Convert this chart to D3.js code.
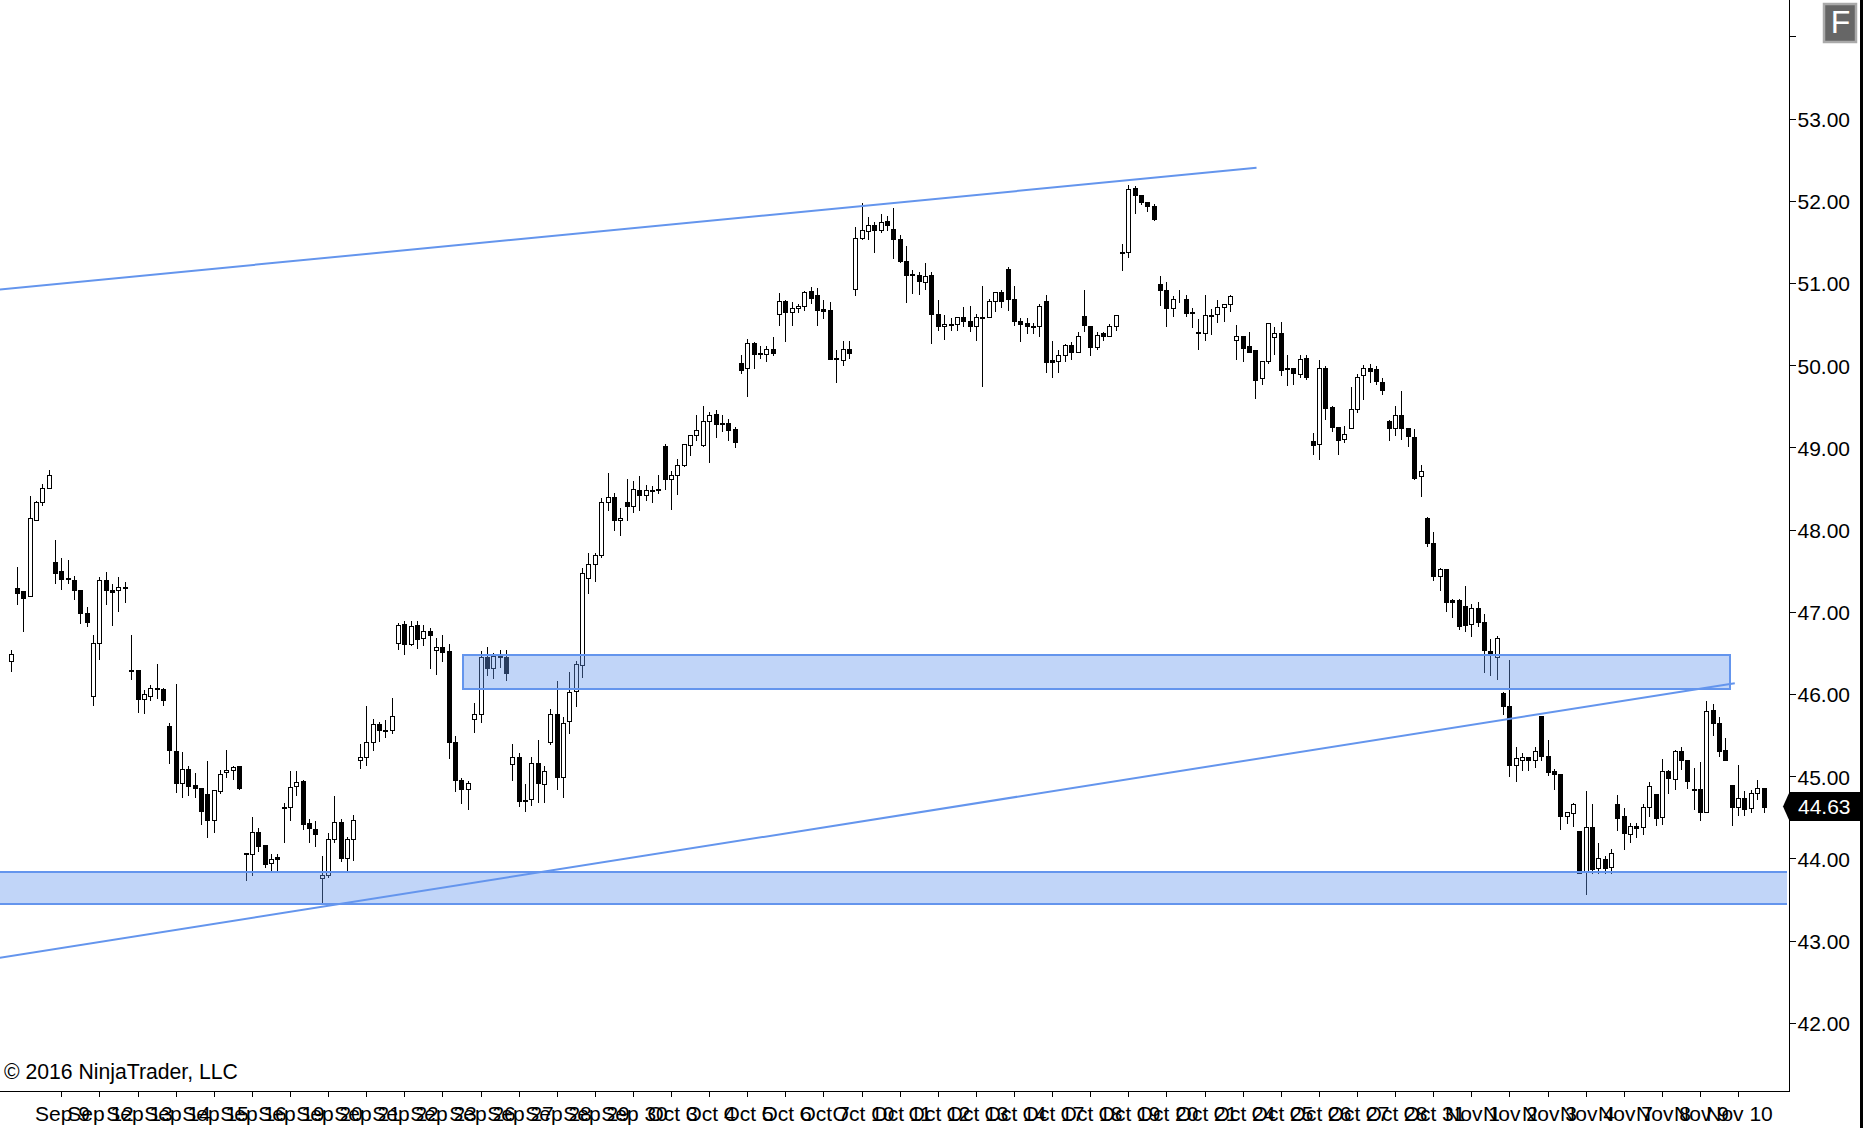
<!DOCTYPE html>
<html><head><meta charset="utf-8">
<script src="https://cdn.jsdelivr.net/npm/d3@7/dist/d3.min.js"></script>
<style>html,body{margin:0;padding:0;background:#fff;overflow:hidden}svg{display:block}text{font-family:"Liberation Sans",Arial,sans-serif}</style>
</head><body><svg id="c" width="1863" height="1128"></svg>
<script>
const opens=[46.40,47.29,47.25,47.19,48.12,48.34,48.51,47.61,47.49,47.41,
47.39,47.26,46.99,45.97,46.62,47.39,47.26,47.27,47.30,46.29,
46.29,45.94,45.98,46.07,46.06,45.61,45.31,44.91,45.09,44.89,
44.85,44.78,44.46,44.82,45.05,45.07,45.12,44.06,44.05,44.32,
44.16,43.94,44.01,44.61,44.62,44.88,44.94,44.43,44.36,43.76,
43.80,44.23,44.44,44.00,44.23,45.20,45.23,45.42,45.63,45.56,
45.56,46.62,46.85,46.61,46.84,46.68,46.77,46.54,46.57,46.52,
45.42,44.95,44.84,45.69,45.75,46.45,46.32,46.46,46.45,45.15,
45.23,44.71,44.72,45.16,44.90,45.41,45.75,44.99,45.67,46.03,
46.35,47.41,47.58,47.69,48.34,48.40,48.11,48.33,48.28,48.48,
48.42,48.48,48.49,49.01,48.61,48.66,48.79,49.03,49.15,49.03,
49.32,49.40,49.29,49.29,49.22,50.03,49.96,50.27,50.15,50.14,
50.20,50.62,50.78,50.65,50.69,50.72,50.90,50.85,50.68,50.67,
50.09,50.06,50.19,50.93,51.55,51.63,51.71,51.64,51.75,51.65,
51.54,51.27,51.11,51.10,51.01,51.10,50.62,50.47,50.50,50.50,
50.59,50.54,50.48,50.57,50.59,50.78,50.89,51.17,50.81,50.54,
50.51,50.47,50.47,50.78,50.06,50.05,50.12,50.24,50.16,50.60,
50.48,50.22,50.39,50.36,50.48,51.36,51.38,52.15,52.07,51.98,
51.94,50.99,50.91,50.70,50.81,50.81,50.64,50.40,50.39,50.61,
50.62,50.71,50.74,50.30,50.35,50.23,50.18,49.84,50.05,50.34,
50.39,49.95,49.97,49.89,50.09,49.08,49.04,49.97,49.49,49.25,
49.10,49.24,49.46,49.88,49.97,49.95,49.80,49.32,49.24,49.39,
49.23,49.13,48.65,48.14,47.84,47.44,47.52,47.14,47.14,47.07,
46.85,47.05,46.88,46.52,46.45,46.01,45.85,45.14,45.20,45.23,
45.19,45.73,45.25,45.06,45.02,44.52,44.55,44.33,43.84,44.38,
43.88,43.99,43.89,44.66,44.51,44.30,44.39,44.38,44.62,44.78,
44.50,45.06,44.97,45.30,45.20,44.84,44.84,44.56,45.80,45.64,
45.32,44.89,44.62,44.73,44.61,44.80,44.85];
const highs=[46.55,47.56,47.26,48.42,48.36,48.57,48.74,47.88,47.67,47.64,
47.45,47.26,47.07,46.73,47.43,47.50,47.35,47.44,47.37,46.73,
46.29,46.06,46.12,46.37,46.08,45.66,46.13,45.30,45.14,45.05,
44.87,45.20,44.84,45.09,45.33,45.14,45.14,44.07,44.51,44.38,
44.16,44.06,44.06,44.69,45.07,45.08,44.96,44.49,44.46,44.04,
44.32,44.77,44.49,44.27,44.54,45.40,45.87,45.71,45.67,45.70,
45.96,46.88,46.90,46.90,46.90,46.85,46.81,46.69,46.73,46.62,
45.50,44.99,44.95,45.90,46.53,46.58,46.51,46.55,46.55,45.40,
45.29,44.91,45.24,45.45,45.14,45.83,46.17,45.73,46.28,46.41,
47.54,47.73,47.73,48.40,48.70,48.46,48.27,48.63,48.60,48.66,
48.55,48.54,48.68,49.05,48.72,48.87,49.04,49.15,49.40,49.51,
49.44,49.47,49.40,49.36,49.26,50.14,50.33,50.29,50.25,50.25,
50.35,50.89,50.80,50.78,50.75,50.91,50.96,50.95,50.81,50.78,
50.20,50.31,50.31,51.69,51.98,51.81,51.75,51.85,51.82,51.92,
51.59,51.46,51.17,51.15,51.26,51.15,50.80,50.62,50.59,50.59,
50.72,50.73,50.63,50.97,50.82,50.89,50.92,51.21,50.98,50.59,
50.58,50.53,50.76,50.87,50.31,50.20,50.27,50.29,50.41,50.92,
50.48,50.42,50.42,50.51,50.62,51.49,52.20,52.19,52.08,51.98,
51.97,51.10,51.02,50.85,50.92,50.86,50.71,50.57,50.87,50.70,
50.81,50.74,50.87,50.50,50.37,50.41,50.19,50.05,50.53,50.47,
50.54,50.13,49.97,50.14,50.13,49.19,50.08,50.00,49.52,49.25,
49.27,49.74,49.90,50.01,50.03,50.00,49.86,49.35,49.52,49.70,
49.25,49.24,48.80,48.17,47.98,47.54,47.52,47.17,47.17,47.33,
47.10,47.13,46.98,46.68,46.72,46.03,46.43,45.37,45.29,45.23,
45.37,45.74,45.45,45.10,45.02,44.58,44.68,44.33,44.83,44.67,
44.20,44.04,44.13,44.78,44.63,44.44,44.44,44.67,44.94,44.78,
45.22,45.09,45.33,45.37,45.20,45.11,45.18,45.93,45.89,45.73,
45.47,44.89,45.15,44.83,44.84,44.96,44.85];
const lows=[46.28,47.09,46.77,47.19,48.12,48.30,48.50,47.35,47.28,47.35,
47.15,46.86,46.83,45.87,46.43,47.09,46.84,47.01,47.12,46.18,
45.78,45.77,45.92,45.95,45.87,45.16,44.81,44.74,44.77,44.75,
44.42,44.26,44.32,44.80,44.99,44.96,44.84,43.74,43.80,44.09,
43.90,43.85,43.83,44.20,44.47,44.77,44.36,44.20,44.15,43.44,
43.77,44.20,43.97,43.86,43.98,45.10,45.13,45.32,45.43,45.48,
45.53,46.55,46.49,46.59,46.56,46.60,46.32,46.24,46.40,45.22,
44.82,44.67,44.60,45.54,45.66,46.23,46.19,46.33,46.17,44.95,
44.64,44.58,44.65,44.68,44.68,45.39,44.84,44.74,45.52,45.85,
46.20,47.23,47.37,47.66,48.24,48.00,47.93,48.12,48.21,48.24,
48.36,48.34,48.45,48.49,48.25,48.43,48.77,48.91,49.09,49.02,
48.82,49.13,49.20,49.09,49.00,49.90,49.63,49.97,50.09,50.05,
50.12,50.49,50.29,50.49,50.65,50.67,50.76,50.49,50.57,50.08,
49.79,50.00,50.09,50.85,51.54,51.53,51.37,51.62,51.64,51.30,
51.26,50.77,50.88,50.86,50.93,50.27,50.43,50.32,50.43,50.43,
50.47,50.41,50.31,49.75,50.58,50.66,50.71,50.67,50.49,50.29,
50.39,50.39,50.35,49.91,49.86,49.91,50.05,50.08,50.16,50.42,
50.12,50.20,50.30,50.35,50.43,51.16,51.31,51.85,51.96,51.87,
51.77,50.73,50.47,50.60,50.77,50.60,50.46,50.20,50.31,50.38,
50.52,50.54,50.66,50.07,50.05,50.16,49.60,49.77,50.03,50.13,
49.88,49.76,49.77,49.86,49.83,48.92,48.86,49.35,49.20,48.92,
49.07,49.23,49.43,49.59,49.79,49.77,49.65,49.09,49.15,49.10,
49.02,48.62,48.41,47.80,47.39,47.26,47.01,46.93,46.79,46.77,
46.71,46.82,46.27,46.23,46.18,45.75,45.00,44.94,45.08,45.08,
45.11,45.20,45.01,44.84,44.36,44.43,44.39,43.82,43.56,43.82,
43.82,43.82,43.82,44.35,44.11,44.20,44.26,44.30,44.51,44.40,
44.42,44.80,44.84,45.09,44.85,44.60,44.46,44.56,45.50,45.25,
45.19,44.40,44.53,44.53,44.56,44.72,44.56];
const closes=[46.49,47.23,47.17,48.14,48.34,48.51,48.66,47.47,47.40,47.40,
47.26,46.99,46.88,46.62,47.39,47.26,47.24,47.30,47.29,46.28,
45.94,46.00,46.07,46.06,45.92,45.32,44.92,45.09,44.88,44.85,
44.58,44.46,44.83,45.03,45.07,45.11,44.85,44.05,44.32,44.15,
43.93,43.99,43.99,44.63,44.87,44.93,44.42,44.37,44.29,43.80,
44.23,44.44,44.00,44.23,44.47,45.23,45.42,45.63,45.56,45.55,
45.73,46.84,46.61,46.82,46.67,46.76,46.72,46.57,46.51,45.42,
44.95,44.84,44.92,45.75,46.45,46.32,46.46,46.45,46.25,45.23,
44.70,44.70,45.16,44.91,45.06,45.75,44.99,45.65,46.02,46.36,
47.47,47.58,47.69,48.34,48.40,48.11,48.14,48.28,48.49,48.42,
48.48,48.47,48.48,48.61,48.66,48.78,49.04,49.15,49.21,49.32,
49.39,49.28,49.28,49.21,49.07,49.94,50.27,50.13,50.14,50.20,
50.15,50.78,50.65,50.69,50.72,50.89,50.82,50.67,50.66,50.08,
50.07,50.19,50.15,51.55,51.64,51.71,51.64,51.74,51.71,51.53,
51.27,51.10,51.10,51.02,51.09,50.62,50.48,50.50,50.49,50.59,
50.54,50.47,50.59,50.59,50.78,50.89,50.78,50.81,50.54,50.50,
50.48,50.46,50.72,50.04,50.04,50.12,50.24,50.16,50.36,50.49,
50.22,50.37,50.36,50.48,50.61,51.38,52.14,52.07,51.98,51.94,
51.78,50.91,50.70,50.81,50.80,50.63,50.63,50.39,50.61,50.60,
50.71,50.74,50.84,50.35,50.21,50.16,49.82,50.05,50.51,50.39,
49.94,49.97,49.90,50.08,49.86,49.03,49.97,49.48,49.25,49.09,
49.16,49.46,49.86,49.96,49.93,49.81,49.70,49.24,49.39,49.23,
49.14,48.63,48.71,47.84,47.43,47.52,47.12,47.12,46.83,46.84,
47.04,46.88,46.53,46.47,46.68,45.85,45.13,45.22,45.23,45.19,
45.31,45.25,45.05,45.02,44.52,44.56,44.66,43.82,44.38,43.87,
44.00,43.88,44.06,44.49,44.31,44.39,44.37,44.63,44.88,44.49,
45.06,44.98,45.31,45.19,44.94,44.83,44.56,45.79,45.64,45.31,
45.19,44.62,44.73,44.60,44.80,44.85,44.63];
const dateLabels=["Sep 9","Sep 12","Sep 13","Sep 14","Sep 15","Sep 16","Sep 19","Sep 20","Sep 21","Sep 22","Sep 23","Sep 26","Sep 27","Sep 28","Sep 29","Sep 30",
"Oct 3","Oct 4","Oct 5","Oct 6","Oct 7","Oct 10","Oct 11","Oct 12","Oct 13","Oct 14","Oct 17","Oct 18","Oct 19","Oct 20","Oct 21","Oct 24","Oct 25","Oct 26","Oct 27","Oct 28","Oct 31",
"Nov 1","Nov 2","Nov 3","Nov 4","Nov 7","Nov 8","Nov 9","Nov 10"];
const firstDateBar=8, barsPerDay=6;
const priceTicks=[42,43,44,45,46,47,48,49,50,51,52,53];
const topTick=54;
const lastPrice=44.63;
const copyright="\u00A9 2016 NinjaTrader, LLC";
const trendUpper=[[-1.78,50.92],[196.1,52.40]];
const trendLower=[[-1.78,42.79],[271.4,46.13]];
const zoneUpper={from:71.15,to:270.6,top:46.47,bottom:46.06};
const zoneLower={from:-6,to:285,top:43.83,bottom:43.44};

const W=1863,H=1128,plotRight=1789.5,axisY=1091.5;
const svg=d3.select("#c");
const x=d3.scaleLinear().domain([0,276]).range([11,1764]);
const y=d3.scaleLinear().domain([44,53]).range([858.3,118.5]);
const cx=i=>Math.floor(x(i))+0.5;
const py=v=>Math.round(y(v))+0.5;
const bars=d3.range(opens.length).map(i=>({i,o:opens[i],h:highs[i],l:lows[i],c:closes[i]}));

const plot=svg.append("g");
svg.append("clipPath").attr("id","pc").append("rect").attr("x",0).attr("y",0).attr("width",1787).attr("height",axisY);
plot.attr("clip-path","url(#pc)");

const candles=plot.append("g").attr("shape-rendering","crispEdges");
candles.selectAll("line").data(bars).join("line")
 .attr("x1",d=>cx(d.i)).attr("x2",d=>cx(d.i)).attr("y1",d=>py(d.h)).attr("y2",d=>py(d.l)+0.5)
 .attr("stroke","#000").attr("stroke-width",1);
candles.selectAll("rect").data(bars).join("rect")
 .attr("x",d=>cx(d.i)-2).attr("width",4)
 .attr("y",d=>py(Math.max(d.o,d.c)))
 .attr("height",d=>Math.max(0,py(Math.min(d.o,d.c))-py(Math.max(d.o,d.c))))
 .attr("fill",d=>d.c>=d.o?"#fff":"#000").attr("stroke","#000").attr("stroke-width",1);

const zoneFill="rgba(100,149,237,0.4)",blue="#6495ED";
[zoneUpper,zoneLower].forEach(z=>{
 plot.append("rect").attr("x",x(z.from)).attr("width",x(z.to)-x(z.from))
  .attr("y",y(z.top)).attr("height",y(z.bottom)-y(z.top))
  .attr("fill",zoneFill).attr("stroke",blue).attr("stroke-width",2).attr("shape-rendering","crispEdges");
});
const lineGen=d3.line().x(d=>x(d[0])).y(d=>y(d[1]));
[trendUpper,trendLower].forEach(t=>{
 plot.append("path").attr("d",lineGen(t)).attr("fill","none").attr("stroke",blue).attr("stroke-width",2);
});

// x axis
const tickBars=dateLabels.map((d,i)=>firstDateBar+i*barsPerDay);
const xAxis=d3.axisBottom(x).tickValues(tickBars).tickSize(5).tickPadding(10)
 .tickFormat((d)=>dateLabels[(d-firstDateBar)/barsPerDay]);
const gx=svg.append("g").attr("transform",`translate(0,${axisY})`).call(xAxis);
gx.select(".domain").remove();
gx.selectAll("text").attr("font-size",21).attr("fill","#000").attr("dx",1).style("font-family",'"Liberation Sans",Arial,sans-serif');
gx.selectAll("line").attr("stroke","#000").attr("shape-rendering","crispEdges");
gx.selectAll(".tick").attr("transform",d=>`translate(${cx(d)},0)`);
svg.append("line").attr("x1",0).attr("x2",plotRight).attr("y1",axisY).attr("y2",axisY).attr("stroke","#000").attr("stroke-width",1.3).attr("shape-rendering","crispEdges");

// y axis
const yAxis=d3.axisRight(y).tickValues(priceTicks.concat([topTick])).tickSize(6).tickPadding(2)
 .tickFormat(d=>d===topTick?"":d3.format(".2f")(d));
const gy=svg.append("g").attr("transform",`translate(${plotRight},0)`).call(yAxis);
gy.select(".domain").remove();
gy.selectAll("text").attr("font-size",21).attr("fill","#000").attr("dy","0.38em").style("font-family",'"Liberation Sans",Arial,sans-serif');
gy.selectAll("line").attr("stroke","#000").attr("shape-rendering","crispEdges");
svg.append("line").attr("x1",plotRight).attr("x2",plotRight).attr("y1",0).attr("y2",axisY).attr("stroke","#000").attr("stroke-width",1.3).attr("shape-rendering","crispEdges");

// right border
svg.append("rect").attr("x",1860).attr("y",0).attr("width",3).attr("height",H).attr("fill","#000");

// last price tag
const ty=y(lastPrice);
svg.append("path").attr("d",`M1783,${ty}L1789.5,${ty-14.5}L1861,${ty-14.5}L1861,${ty+14.5}L1789.5,${ty+14.5}Z`).attr("fill","#000");
svg.append("text").attr("x",1798).attr("y",ty).attr("dy","0.35em").attr("font-size",21).attr("fill","#fff").text(d3.format(".2f")(lastPrice));

// F button
svg.append("rect").attr("x",1824).attr("y",4).attr("width",32).attr("height",38).attr("fill","#666").attr("stroke","#aaa").attr("stroke-width",2.5);
svg.append("text").attr("x",1840.5).attr("y",33).attr("text-anchor","middle").attr("font-size",32).attr("fill","#fff").text("F");

// copyright
svg.append("text").attr("x",4).attr("y",1079).attr("font-size",21.2).attr("fill","#000").text(copyright);
</script></body></html>
